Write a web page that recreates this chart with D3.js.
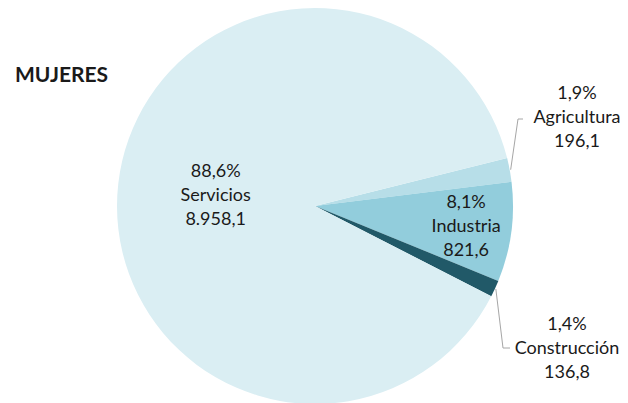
<!DOCTYPE html>
<html>
<head>
<meta charset="utf-8">
<script src="https://cdn.jsdelivr.net/npm/d3@7"></script>
<style>
  html, body { margin: 0; padding: 0; background: #fff; }
  svg { display: block; }
  text { font-family: Lato, "Open Sans", sans-serif; fill: #1a1a1a; }
</style>
</head>
<body>
<svg id="chart" width="628" height="403"></svg>
<script>
// Data
const title = "MUJERES";
const categories = ["Agricultura", "Industria", "Construcción", "Servicios"];
const values = [196.1, 821.6, 136.8, 8958.1];
const colors = ["#B7DEE8", "#92CDDC", "#215968", "#DAEEF3"];

const esLocale = d3.formatLocale({decimal: ",", thousands: ".", grouping: [3], currency: ["", "€"]});
const fmtVal = esLocale.format(",.1f");
const fmtPct = esLocale.format(".1%");

const W = 628, H = 403;
const cx = 315, cy = 206, R = 198;
const startDeg = 76;

const svg = d3.select("#chart");
const total = d3.sum(values);

const data = categories.map((c, i) => ({cat: c, value: values[i], color: colors[i]}));

const pie = d3.pie()
  .value(d => d.value)
  .sort(null)
  .startAngle(startDeg * Math.PI / 180)
  .endAngle(startDeg * Math.PI / 180 + 2 * Math.PI);

const arcs = pie(data);
const arc = d3.arc().innerRadius(0).outerRadius(R);

const g = svg.append("g").attr("transform", `translate(${cx},${cy})`);

g.selectAll("path.slice")
  .data(arcs)
  .join("path")
  .attr("class", "slice")
  .attr("d", arc)
  .attr("fill", d => d.data.color);

svg.append("text")
  .attr("x", 15)
  .attr("y", 82)
  .attr("font-size", 21)
  .attr("font-weight", "bold")
  .text(title);

function pointAt(angle, r) {
  return [r * Math.sin(angle), -r * Math.cos(angle)];
}

// label configuration: inside (radius factor) or outside (leader + label position)
const labelCfg = {
  "Servicios": {type: "in", rf: 0.505},
  "Industria": {type: "in", rf: 0.77},
  "Agricultura": {type: "out", elbow: [203, -87], end: [208, -87], tx: 262, ty: -89},
  "Construcción": {type: "out", elbow: [188, 142], end: [195, 142], tx: 252, ty: 142}
};

const lineH = 24;

arcs.forEach(a => {
  const cfg = labelCfg[a.data.cat];
  const mid = (a.startAngle + a.endAngle) / 2;
  const lines = [fmtPct(a.data.value / total), a.data.cat, fmtVal(a.data.value)];
  let tx, ty;
  if (cfg.type === "in") {
    [tx, ty] = pointAt(mid, R * cfg.rf);
  } else {
    const p0 = pointAt(mid, R + 1);
    g.append("polyline")
      .attr("points", [p0, cfg.elbow, cfg.end].map(p => p.join(",")).join(" "))
      .attr("fill", "none")
      .attr("stroke", "#A6A6A6")
      .attr("stroke-width", 1);
    tx = cfg.tx; ty = cfg.ty;
  }
  const t = g.append("text")
    .attr("text-anchor", "middle")
    .attr("font-size", 18);
  lines.forEach((l, i) => {
    t.append("tspan")
      .attr("x", tx)
      .attr("y", ty + (i - 1) * lineH)
      .attr("dy", "0.35em")
      .text(l);
  });
});
</script>
</body>
</html>
